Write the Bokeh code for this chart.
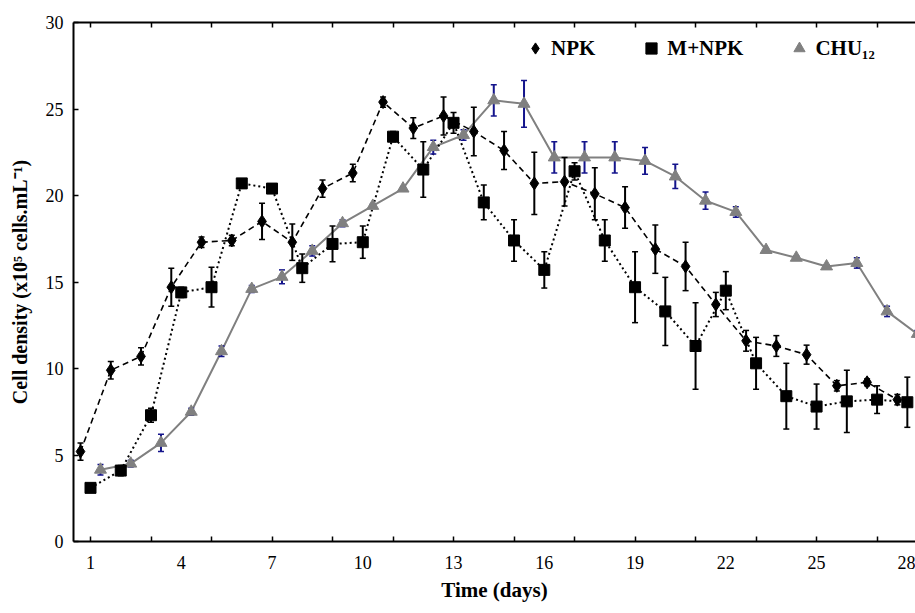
from bokeh.plotting import figure
from bokeh.models import (ColumnDataSource, Range1d, FixedTicker, LinearAxis,
                          Legend, LegendItem)
from bokeh.transform import dodge
from bokeh.embed import file_html
from bokeh.resources import INLINE

# ---- data ----
days = list(range(1, 29))
npk = [5.2, 9.9, 10.7, 14.7, 17.3, 17.4, 18.5, 17.3, 20.4, 21.3, 25.4, 23.9, 24.6, 23.7,
       22.6, 20.7, 20.8, 20.1, 19.3, 16.9, 15.9, 13.7, 11.6, 11.3, 10.8, 9.0, 9.2, 8.2]
npk_err = [0.5, 0.5, 0.5, 1.1, 0.3, 0.3, 1.05, 1.05, 0.5, 0.5, 0.3, 0.6, 1.1, 1.4,
           1.1, 1.8, 1.4, 1.5, 1.2, 1.4, 1.4, 0.7, 0.6, 0.6, 0.55, 0.3, 0.2, 0.3]
mnpk = [3.1, 4.1, 7.3, 14.4, 14.7, 20.7, 20.4, 15.8, 17.2, 17.3, 23.4, 21.5, 24.2, 19.6,
        17.4, 15.7, 21.4, 17.4, 14.7, 13.3, 11.3, 14.5, 10.3, 8.4, 7.8, 8.1, 8.2, 8.05]
mnpk_err = [0.15, 0.3, 0.4, 0.3, 1.15, 0.2, 0.2, 0.82, 1.03, 0.93, 0.3, 1.6, 0.6, 1.0,
            1.2, 1.05, 0.5, 1.2, 2.05, 1.97, 2.5, 1.1, 1.5, 1.9, 1.3, 1.8, 0.8, 1.45]
chu = [4.15, 4.5, 5.7, 7.5, 11.0, 14.6, 15.3, 16.8, 18.4, 19.4, 20.4, 22.8, 23.5, 25.5,
       25.3, 22.2, 22.2, 22.2, 22.0, 21.1, 19.7, 19.05, 16.85, 16.4, 15.9, 16.1, 13.3, 12.0]
chu_err = [0.3, 0.2, 0.5, 0.2, 0.3, 0.2, 0.4, 0.3, 0.2, 0.1, 0.1, 0.4, 0.3, 0.9,
           1.35, 0.9, 0.9, 0.9, 0.77, 0.7, 0.5, 0.3, 0.1, 0.1, 0.1, 0.3, 0.3, 0.2]

x_tick_labels = [1, 4, 7, 10, 13, 16, 19, 22, 25, 28]
x_tick_marks = list(range(1, 28, 2))
y_ticks = [0, 5, 10, 15, 20, 25, 30]

src = ColumnDataSource(dict(
    day=days,
    npk=npk, npk_lo=[v - e for v, e in zip(npk, npk_err)], npk_hi=[v + e for v, e in zip(npk, npk_err)],
    mnpk=mnpk, mnpk_lo=[v - e for v, e in zip(mnpk, mnpk_err)], mnpk_hi=[v + e for v, e in zip(mnpk, mnpk_err)],
    chu=chu, chu_lo=[v - e for v, e in zip(chu, chu_err)], chu_hi=[v + e for v, e in zip(chu, chu_err)],
))

FONT = "Liberation Serif"

p = figure(width=915, height=610, output_backend="svg", toolbar_location=None,
           x_range=Range1d(0.438, 28.27), y_range=Range1d(0, 30),
           min_border_left=73, min_border_top=22, min_border_right=0, min_border_bottom=69,
           x_axis_location=None, y_axis_location=None)
p.outline_line_color = None
p.xgrid.visible = False
p.ygrid.visible = False

def style_axis(ax):
    ax.axis_line_width = 2
    ax.axis_line_color = "black"
    ax.major_label_text_font = FONT
    ax.major_label_text_font_size = "18px"
    ax.major_label_text_color = "black"
    ax.axis_label_text_font = FONT
    ax.axis_label_text_font_style = "bold"
    ax.axis_label_text_color = "black"

xb = LinearAxis(ticker=FixedTicker(ticks=x_tick_labels, minor_ticks=x_tick_marks),
                axis_label="Time (days)")
style_axis(xb)
xb.axis_label_text_font_size = "21px"
xb.major_tick_in = 0
xb.major_tick_out = 0
xb.minor_tick_in = 5
xb.minor_tick_out = 0
xb.minor_tick_line_width = 1.5
xb.major_label_standoff = 14
xb.axis_label_standoff = 6
p.add_layout(xb, "below")

xa = LinearAxis(ticker=FixedTicker(ticks=[], minor_ticks=x_tick_marks))
style_axis(xa)
xa.major_tick_in = 0
xa.major_tick_out = 0
xa.minor_tick_in = 5
xa.minor_tick_out = 0
xa.minor_tick_line_width = 1.5
xa.major_label_standoff = 0
p.add_layout(xa, "above")

yl = LinearAxis(ticker=FixedTicker(ticks=y_ticks, minor_ticks=[]),
                axis_label="Cell density (x10\u2075 cells.mL\u207b\u00b9)")
style_axis(yl)
yl.axis_label_text_font_size = "20px"
yl.major_tick_in = 5
yl.major_tick_out = 0
yl.major_tick_line_width = 1.5
yl.minor_tick_in = 0
yl.minor_tick_out = 0
yl.major_label_standoff = 10
yl.axis_label_standoff = 12
p.add_layout(yl, "left")

xn = dodge("day", -0.33, range=p.x_range)
xm = dodge("day", 0.0, range=p.x_range)
xc = dodge("day", 0.33, range=p.x_range)

NAVY = "#14148c"
GRAY = "#808080"

# lines
p.line(x=xc, y="chu", source=src, line_color=GRAY, line_width=2)
p.line(x=xn, y="npk", source=src, line_color="black", line_width=1.6, line_dash="6 4")
p.line(x=xm, y="mnpk", source=src, line_color="black", line_width=2, line_dash="2 3")

# error bars
for xx, key, col in [(xc, "chu", NAVY), (xn, "npk", "black"), (xm, "mnpk", "black")]:
    p.segment(x0=xx, y0=key + "_lo", x1=xx, y1=key + "_hi", source=src,
              line_color=col, line_width=2)
    p.scatter(x=xx, y=key + "_lo", source=src, marker="dash", size=6,
              line_color=col, line_width=1.5)
    p.scatter(x=xx, y=key + "_hi", source=src, marker="dash", size=6,
              line_color=col, line_width=1.5)

# markers
r_chu = p.scatter(x=xc, y="chu", source=src, marker="triangle", size=12,
                  fill_color=GRAY, line_color=GRAY)
r_npk = p.scatter(x=xn, y="npk", source=src, marker="diamond", size=13,
                  fill_color="black", line_color="black")
r_mnpk = p.scatter(x=xm, y="mnpk", source=src, marker="square", size=11,
                   fill_color="black", line_color="black")

legend = Legend(items=[
    LegendItem(label="NPK", renderers=[r_npk]),
    LegendItem(label="M+NPK", renderers=[r_mnpk]),
    LegendItem(label="CHU\u2081\u2082", renderers=[r_chu]),
], orientation="horizontal", location=(448, 479))
legend.label_text_font = FONT
legend.label_text_font_style = "bold"
legend.label_text_font_size = "21px"
legend.label_text_color = "black"
legend.border_line_color = None
legend.background_fill_alpha = 0
legend.padding = 0
legend.margin = 0
legend.spacing = 42
legend.label_standoff = 2
legend.glyph_width = 28
legend.glyph_height = 28
p.add_layout(legend, "center")

open("out.html", "w").write(file_html(p, INLINE))
